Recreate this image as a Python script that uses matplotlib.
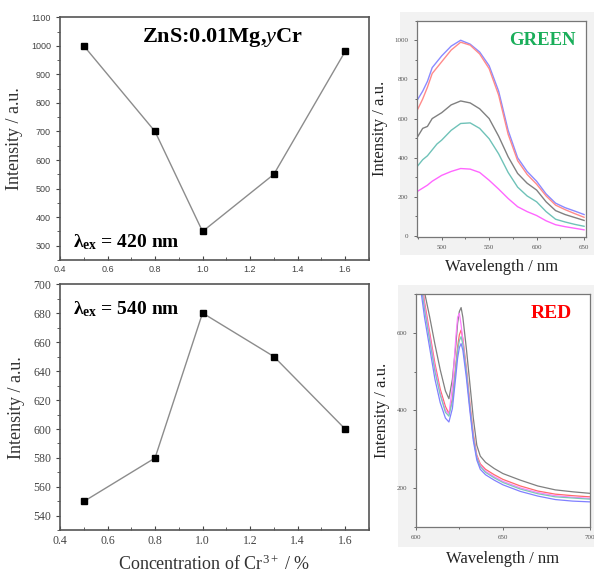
import numpy as np
import matplotlib
matplotlib.use("Agg")
import matplotlib.pyplot as plt
from matplotlib.patches import Rectangle
from matplotlib.ticker import MultipleLocator

plt.rcParams["mathtext.fontset"] = "custom"
plt.rcParams["mathtext.rm"] = "Liberation Serif"
plt.rcParams["mathtext.it"] = "Liberation Serif:italic"
plt.rcParams["mathtext.bf"] = "Liberation Serif:bold"

# concentration series
conc = [0.5, 0.8, 1.0, 1.3, 1.6]
int_420 = [1000, 700, 350, 550, 980]
int_540 = [550, 580, 680, 650, 600]

# green emission spectra (lambda_ex = 420 nm)
wl_g = [475, 480, 485, 490, 495, 500, 510, 520, 530, 540, 550, 560, 570, 580, 590, 600, 610, 620, 630, 640, 650]
g_blue = [700, 740, 790, 860, 890, 920, 970, 1000, 980, 940, 870, 740, 540, 400, 330, 280, 215, 168, 145, 128, 110]
g_red = [650, 700, 760, 830, 860, 890, 950, 990, 975, 930, 855, 720, 520, 385, 315, 265, 205, 158, 135, 115, 96]
g_black = [510, 550, 560, 600, 615, 630, 670, 690, 680, 650, 600, 510, 405, 320, 270, 235, 175, 130, 110, 95, 80]
g_teal = [360, 390, 410, 440, 470, 490, 540, 575, 578, 550, 497, 420, 325, 250, 205, 175, 125, 86, 72, 60, 50]
g_mag = [230, 245, 260, 280, 295, 310, 330, 345, 342, 325, 285, 240, 192, 150, 125, 105, 78, 58, 48, 40, 32]

# red emission spectra (lambda_ex = 540 nm)
wl_r = [600, 602, 605, 608, 611, 614, 617, 619, 621, 623, 624, 625, 626, 627, 629, 631, 633, 635, 637, 640, 645, 650, 660, 670, 680, 690, 700]
r_black = [900, 820, 705, 640, 570, 505, 450, 430, 480, 570, 625, 655, 665, 640, 560, 470, 380, 310, 282, 266, 250, 237, 220, 205, 195, 190, 186]
r_red = [860, 780, 680, 600, 520, 455, 410, 392, 430, 520, 565, 595, 607, 585, 510, 420, 340, 285, 262, 248, 234, 222, 205, 192, 184, 180, 177]
r_mag = [850, 770, 670, 590, 510, 445, 400, 390, 460, 590, 640, 650, 620, 580, 500, 410, 330, 280, 258, 243, 229, 217, 200, 188, 180, 176, 173]
r_teal = [840, 760, 660, 580, 500, 440, 395, 385, 425, 510, 555, 580, 590, 570, 500, 410, 330, 278, 255, 240, 226, 214, 197, 185, 177, 174, 171]
r_blue = [820, 740, 640, 560, 480, 420, 380, 370, 405, 490, 535, 562, 572, 555, 485, 400, 322, 272, 248, 234, 220, 208, 191, 179, 170, 166, 164]

serif = "Liberation Serif"
sans = "Liberation Sans"
spine_c = "#555555"

fig = plt.figure(figsize=(5.94, 5.74), dpi=100)
fig.patch.set_facecolor("white")

# light gray backdrops behind the two spectra panels
fig.add_artist(Rectangle((400 / 594, 1 - 255 / 574), 194 / 594, 243 / 574,
                         transform=fig.transFigure, facecolor="#f2f2f2", edgecolor="none", zorder=-1))
fig.add_artist(Rectangle((398 / 594, 1 - 547 / 574), 196 / 594, 262 / 574,
                         transform=fig.transFigure, facecolor="#f2f2f2", edgecolor="none", zorder=-1))


def style_spines(ax, color, lw):
    for s in ax.spines.values():
        s.set_color(color)
        s.set_linewidth(lw)


# ---- top left
ax1 = fig.add_axes([0.101, 0.547, 0.520, 0.423])
ax1.plot(conc, int_420, color="#8c8c8c", lw=1, marker="s", ms=5,
         mfc="black", mec="black")
ax1.set_xlim(0.4, 1.7)
ax1.set_ylim(250, 1100)
ax1.set_xticks([0.4, 0.6, 0.8, 1.0, 1.2, 1.4, 1.6])
ax1.xaxis.set_minor_locator(MultipleLocator(0.1))
ax1.yaxis.set_major_locator(MultipleLocator(100))
ax1.yaxis.set_minor_locator(MultipleLocator(50))
ax1.tick_params(axis="x", which="both", direction="in", colors="#444444", labelsize=6.5, length=3)
ax1.tick_params(axis="x", which="minor", length=2)
ax1.tick_params(axis="y", which="both", direction="out", colors="#444444", labelsize=6.5, length=3)
ax1.tick_params(axis="y", which="minor", length=2)
for t in ax1.get_xticklabels() + ax1.get_yticklabels():
    t.set_family(sans)
style_spines(ax1, spine_c, 1.2)
ax1.set_ylabel("Intensity / a.u.", family=serif, fontsize=13, color="#333333", labelpad=6)
ax1.text(0.527, 0.915, r"ZnS:0.01Mg,$\mathit{y}$Cr", transform=ax1.transAxes, ha="center", va="center",
         family=serif, fontsize=16, fontweight="bold")
ax1.text(0.042, 0.075, r"λ$_{\mathbf{ex}}$ = 420 nm", transform=ax1.transAxes, ha="left", va="center",
         family=serif, fontsize=14, fontweight="bold")

# ---- bottom left
ax2 = fig.add_axes([0.101, 0.0758, 0.520, 0.4294])
ax2.plot(conc, int_540, color="#8c8c8c", lw=1, marker="s", ms=5,
         mfc="black", mec="black")
ax2.set_xlim(0.4, 1.7)
ax2.set_ylim(530, 700)
ax2.set_xticks([0.4, 0.6, 0.8, 1.0, 1.2, 1.4, 1.6])
ax2.xaxis.set_minor_locator(MultipleLocator(0.1))
ax2.yaxis.set_major_locator(MultipleLocator(20))
ax2.yaxis.set_minor_locator(MultipleLocator(10))
ax2.tick_params(axis="x", which="both", direction="in", colors="#444444", labelsize=8.5, length=3)
ax2.tick_params(axis="x", which="minor", length=2)
ax2.tick_params(axis="y", which="both", direction="out", colors="#444444", labelsize=8.5, length=3)
ax2.tick_params(axis="y", which="minor", length=2)
for t in ax2.get_xticklabels() + ax2.get_yticklabels():
    t.set_family(serif)
style_spines(ax2, spine_c, 1.2)
ax2.set_ylabel("Intensity / a.u.", family=serif, fontsize=13, color="#333333", labelpad=6)
ax2.set_xlabel("Concentration of Cr$^{3+}$ / %", family=serif, fontsize=13, color="#333333", labelpad=5)
ax2.text(0.042, 0.9, r"λ$_{\mathbf{ex}}$ = 540 nm", transform=ax2.transAxes, ha="left", va="center",
         family=serif, fontsize=14, fontweight="bold")

# ---- top right (green)
ax3 = fig.add_axes([0.702, 0.587, 0.2845, 0.377])
ax3.set_facecolor("white")
for y, c in [(g_blue, "#8a8aff"), (g_red, "#ff8a8a"), (g_black, "#808080"),
             (g_teal, "#6fc2b8"), (g_mag, "#ff66ff")]:
    ax3.plot(wl_g, y, color=c, lw=1)
ax3.set_xlim(474, 652)
ax3.set_ylim(-5, 1100)
ax3.set_xticks([500, 550, 600, 650])
ax3.xaxis.set_minor_locator(MultipleLocator(25))
ax3.yaxis.set_major_locator(MultipleLocator(200))
ax3.yaxis.set_minor_locator(MultipleLocator(100))
ax3.tick_params(which="both", direction="out", colors="#555555", labelsize=5, length=2.5, width=0.6)
ax3.tick_params(which="minor", length=1.5)
for t in ax3.get_xticklabels() + ax3.get_yticklabels():
    t.set_family(serif)
style_spines(ax3, "#777777", 0.9)
ax3.set_ylabel("Intensity / a.u.", family=serif, fontsize=12, color="#222222", labelpad=5)
ax3.set_xlabel("Wavelength / nm", family=serif, fontsize=12, color="#222222", labelpad=6)
ax3.text(0.74, 0.91, "GREEN", transform=ax3.transAxes, ha="center", va="center",
         family=serif, fontsize=13.5, fontweight="bold", color="#1aae5a")

# ---- bottom right (red)
ax4 = fig.add_axes([0.700, 0.0824, 0.2934, 0.4054])
ax4.set_facecolor("white")
for y, c in [(r_black, "#808080"), (r_red, "#ff6b6b"), (r_mag, "#ff80ff"),
             (r_teal, "#7cc8b8"), (r_blue, "#8080ff")]:
    ax4.plot(wl_r, y, color=c, lw=0.9)
ax4.set_xlim(600, 700)
ax4.set_ylim(100, 700)
ax4.set_xticks([600, 650, 700])
ax4.xaxis.set_minor_locator(MultipleLocator(25))
ax4.yaxis.set_major_locator(MultipleLocator(200))
ax4.yaxis.set_minor_locator(MultipleLocator(100))
ax4.tick_params(which="both", direction="out", colors="#555555", labelsize=5, length=2.5, width=0.6)
ax4.tick_params(which="minor", length=1.5)
for t in ax4.get_xticklabels() + ax4.get_yticklabels():
    t.set_family(serif)
style_spines(ax4, "#777777", 0.9)
ax4.set_ylabel("Intensity / a.u.", family=serif, fontsize=12, color="#222222", labelpad=5)
ax4.set_xlabel("Wavelength / nm", family=serif, fontsize=12, color="#222222", labelpad=8)
ax4.text(0.78, 0.915, "RED", transform=ax4.transAxes, ha="center", va="center",
         family=serif, fontsize=14, fontweight="bold", color="#ff0000")

fig.savefig("out.png", dpi=100)
